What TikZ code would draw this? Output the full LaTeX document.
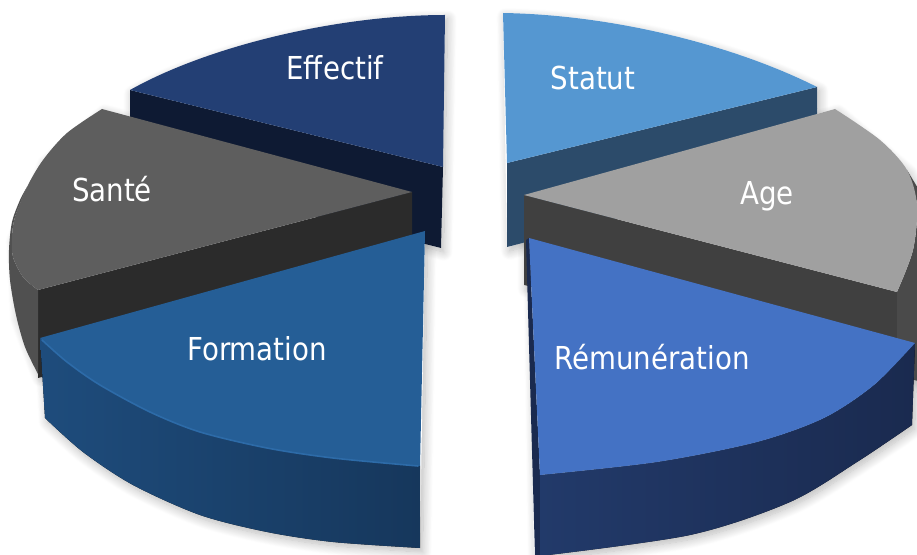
\documentclass[tikz,border=0pt]{standalone}
\usepackage{fontspec}
\newfontfamily\labelfont[FakeStretch=0.875]{DejaVu Sans}
\usetikzlibrary{shadows.blur}
\definecolor{effTop}{HTML}{233F74}
\definecolor{effSide}{HTML}{0E1A33}
\definecolor{statTop}{HTML}{5597D1}
\definecolor{statSide}{HTML}{2C4B6A}
\definecolor{ageTop}{HTML}{A0A0A0}
\definecolor{ageSide}{HTML}{404040}
\definecolor{ageRim}{HTML}{4A4A4A}
\definecolor{remTop}{HTML}{4472C4}
\definecolor{remRimA}{HTML}{223A6A}
\definecolor{remRimB}{HTML}{1A2A4F}
\definecolor{formTop}{HTML}{255E96}
\definecolor{formRimA}{HTML}{1E4C7C}
\definecolor{formRimB}{HTML}{16375C}
\definecolor{formEdge}{HTML}{2D6BA8}
\definecolor{santeTop}{HTML}{5E5E5E}
\definecolor{santeSide}{HTML}{2B2B2B}
\definecolor{santeRim}{HTML}{505050}
\begin{document}
\begin{tikzpicture}[x=0.75pt,y=-0.75pt,
  lbl/.style={text=white, font=\labelfont\fontsize{23.7}{28}\selectfont, inner sep=0pt, anchor=base},
  shad/.style={fill=white, blur shadow={shadow xshift=2pt, shadow yshift=-3pt, shadow blur radius=7pt, shadow opacity=28, shadow blur steps=12}}]
\useasboundingbox (0,0) rectangle (917,555);
\clip (0,0) rectangle (917,555);

% ---------- soft shadows ----------
\path[shad] (445,15) .. controls (340,15) and (210,45) .. (130,90) -- (130,170) -- (441,248) -- cycle;
\path[shad] (503,13) .. controls (620,15) and (740,48) .. (817,87) -- (817,167) -- (507,247) -- cycle;
\path[shad] (524,195) -- (835,109) -- (907,170) -- (930,210) -- (930,380) -- (524,285) -- cycle;
\path[shad] (102,109) -- (43,160) -- (12,237) -- (16,315) -- (38,374) -- (412,280) -- (412,192) -- cycle;
\path[shad] (40,338) -- (425,231) -- (420,548) -- plot[smooth] coordinates {(420,548)(333,542)(267,532)(200,515)(133,485)(83,452)(45,418)} -- cycle;
\path[shad] (529,238) -- (915,343) -- (912,425) -- plot[smooth] coordinates {(912,425)(857,462)(790,502)(690,535)(540,556)} -- (534,556) -- cycle;

% ---------- Effectif ----------
\fill[effSide] (130,90) -- (443,167) -- (441,248) -- (130,170) -- cycle;
\fill[effTop] (443,167) -- (445,15) .. controls (340,15) and (210,45) .. (130,90) -- cycle;
\node[lbl] (effectif) at (335,80) {Effectif};

% ---------- Statut ----------
\fill[statSide] (507,163) -- (817,87) -- (817,167) -- (507,247) -- cycle;
\fill[statTop] (507,163) -- (503,13) .. controls (620,15) and (740,48) .. (817,87) -- cycle;
\node[lbl] (statut) at (593,90) {Statut};

% ---------- Age ----------
\fill[ageSide] (524,195) -- (897,292) -- (935,300) -- (935,385) -- (524,285) -- cycle;
\fill[ageRim] plot[smooth] coordinates {(907,170)(917,205)(913,250)(897,292)} -- (897,375) -- (935,385) -- (935,240) -- (922,195) -- cycle;
\fill[ageTop] (524,195) -- (835,109) -- plot[smooth] coordinates {(835,109)(880,140)(907,170)(917,205)(913,250)(897,292)} -- cycle;
\node[lbl] (age) at (767,205) {Age};

% ---------- Sante ----------
\fill[santeSide] (38,290) -- (412,192) -- (412,280) -- (38,378) -- cycle;
\fill[santeRim] plot[smooth] coordinates {(27,187)(15,217)(12,237)(13,257)(23,277)(38,290)} -- (38,374) -- plot[smooth] coordinates {(38,374)(25,347)(16,315)(10,280)(9,250)(12,222)(20,200)(27,187)} -- cycle;
\fill[santeTop] (412,192) -- (102,109) -- plot[smooth] coordinates {(102,109)(67,133)(43,160)(27,187)(15,217)(12,237)(13,257)(23,277)(38,290)} -- cycle;
\node[lbl] (sante) at (112,202) {Santé};

% ---------- Formation ----------
\fill[left color=formRimA, right color=formRimB] plot[smooth] coordinates {(40,338)(67,362)(100,385)(150,412)(200,432)(267,448)(333,458)(420,466)} -- (420,548) -- plot[smooth] coordinates {(420,548)(333,542)(267,532)(200,515)(133,485)(83,452)(45,418)} -- cycle;
\fill[formTop] (40,338) -- (425,231) -- (420,466) -- plot[smooth] coordinates {(420,466)(333,458)(267,448)(200,432)(150,412)(100,385)(67,362)(40,338)} -- cycle;
\draw[formEdge, line width=1.2pt, line cap=round] plot[smooth] coordinates {(42,340)(67,362)(100,385)(150,412)(200,432)(267,448)(333,458)(418,466)};
\node[lbl] (formation) at (257,361) {Formation};

% ---------- Remuneration ----------
\fill[remRimB] (529,238) -- (540,475) -- (541,556) -- (535,556) -- (526,240) -- cycle;
\fill[left color=remRimA, right color=remRimB] plot[smooth] coordinates {(915,343)(874,385)(824,418)(757,442)(657,462)(540,475)} -- (540,556) -- plot[smooth] coordinates {(540,556)(690,535)(790,502)(857,462)(912,425)} -- cycle;
\fill[remTop] (529,238) -- (915,343) -- plot[smooth] coordinates {(915,343)(874,385)(824,418)(757,442)(657,462)(540,475)} -- cycle;
\node[lbl] (remun) at (652,370) {Rémunération};
\end{tikzpicture}
\end{document}
